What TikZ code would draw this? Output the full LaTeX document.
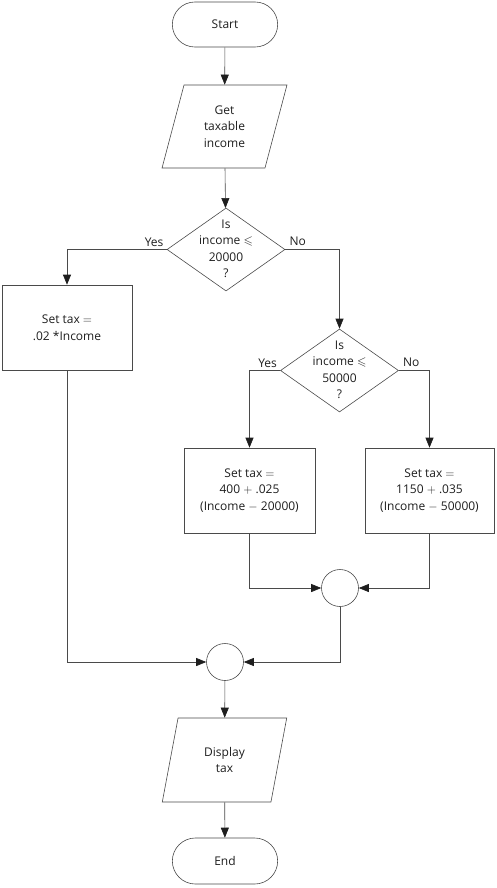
\documentclass[tikz,border=0pt]{standalone}
\usepackage{amsmath,amssymb}
\usepackage{fontspec}
\setmainfont{Open Sans}
\usepackage{tikz}
\usepackage{xcolor}
\usetikzlibrary{arrows.meta,shapes.geometric,shapes.misc}
\definecolor{ink}{HTML}{1E1E1E}
\definecolor{rule}{HTML}{4A4A4A}
\newcommand{\dectext}[1]{\smash{\makebox[0pt]{\raisebox{-3pt}{\begin{tabular}{@{}c@{}}#1\end{tabular}}}}}

\begin{document}
\begin{tikzpicture}[x=1pt,y=-1pt,font=\fontsize{12}{16.5}\selectfont,text=ink,
  line width=0.6pt,
  >={Triangle[length=10pt,width=8pt,color=ink]},
  term/.style={rounded rectangle,draw=rule,minimum width=112pt,minimum height=45pt},
  io/.style={trapezium,trapezium left angle=75,trapezium right angle=105,
             trapezium stretches=true,draw=rule,align=center,
             minimum width=125pt,minimum height=83pt,inner sep=0pt},
  dec/.style={diamond,draw=rule,minimum width=118pt,minimum height=83pt,inner sep=0pt},
  proc/.style={rectangle,draw=rule,align=center,minimum width=130pt,minimum height=85pt},
  merge/.style={circle,draw=rule,minimum size=37pt,inner sep=0pt},
  flow/.style={->,draw=rule}]
  \useasboundingbox (0,0) rectangle (497,888);
  \node[term] (start) at (225,24.5) {Start};
  \node[io] (get) at (224.5,126.5) {Get\\taxable\\income};
  \node[dec] (low) at (226,249.5) {\dectext{Is\\income $\leqslant$\\20000\\?}};
  \node[proc] (flat) at (67,327.5) {Set tax $=$\\.02 *Income};
  \node[dec] (mid) at (339.5,370.5) {\dectext{Is\\income $\leqslant$\\50000\\?}};
  \node[proc,minimum width=131pt] (band) at (249.5,490.5) {Set tax $=$\\400 $+$ .025\\(Income $-$ 20000)};
  \node[proc,minimum width=129pt] (top) at (429.5,490.5) {Set tax $=$\\1150 $+$ .035\\(Income $-$ 50000)};
  \node[merge] (j1) at (340,588) {};
  \node[merge] (j2) at (225,662) {};
  \node[io,minimum height=84pt] (show) at (224.5,760) {Display\\tax};
  \node[term,minimum height=46pt] (end) at (225,861) {End};

  \draw[flow] (start) -- (get);
  \draw[flow] (get) -- (low);
  \draw[flow] (low.west) node[anchor=south east,inner sep=3pt] {Yes} -| (flat.north);
  \draw[flow] (low.east) node[anchor=south west,inner sep=4pt] {No} -| (mid.north);
  \draw[flow] (mid.west) node[anchor=south east,inner sep=3pt] {Yes} -| (band.north);
  \draw[flow] (mid.east) node[anchor=south west,inner sep=4pt] {No} -| (top.north);
  \draw[flow] (band.south) |- (j1.west);
  \draw[flow] (top.south) |- (j1.east);
  \draw[flow] (flat.south) |- (j2.west);
  \draw[flow] (j1.south) |- (j2.east);
  \draw[flow] (j2) -- (show);
  \draw[flow] (show) -- (end);
\end{tikzpicture}
\end{document}
